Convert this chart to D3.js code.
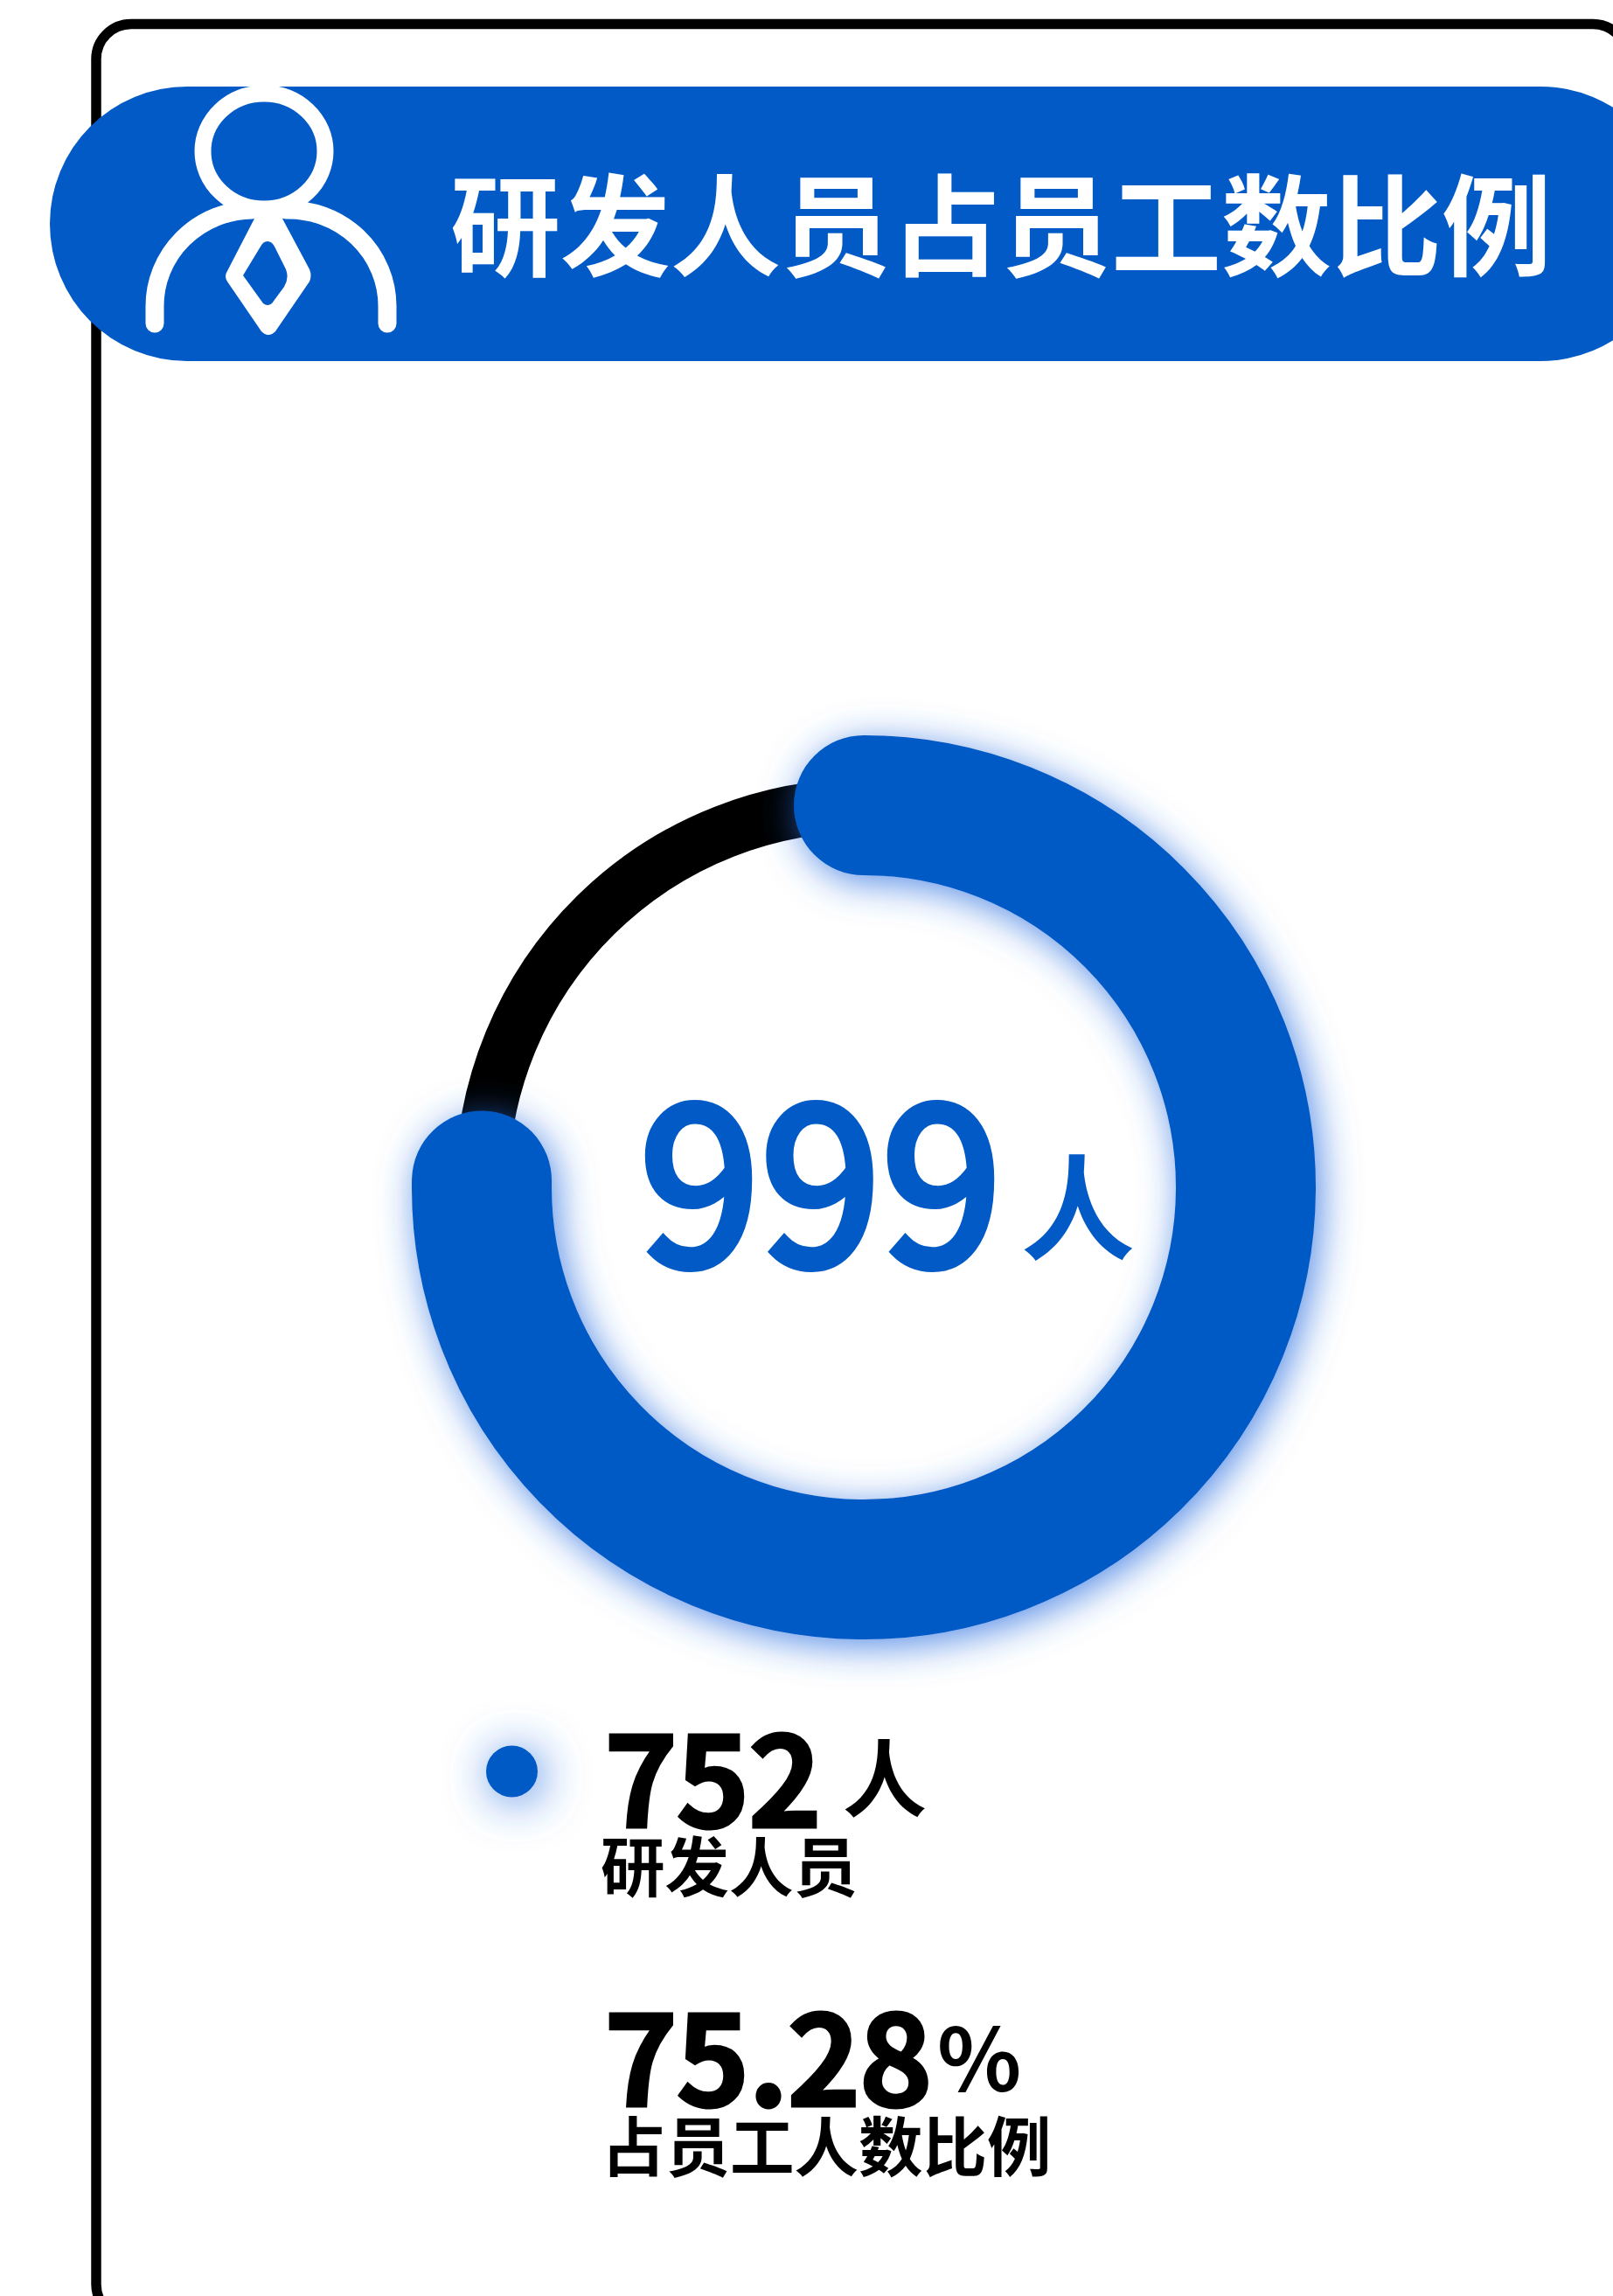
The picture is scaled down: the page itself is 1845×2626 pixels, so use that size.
<!DOCTYPE html>
<html lang="zh">
<head>
  <meta charset="UTF-8">
  <title>研发人员占员工数比例</title>
  <script src="https://d3js.org/d3.v7.min.js"></script>
  <style>
    html, body { margin: 0; padding: 0; background: #fff; overflow: hidden; }
    svg { display: block; }
    text { font-family: "Noto Sans CJK SC", "Noto Sans", sans-serif; }
  </style>
</head>
<body>
  <div id="chart"></div>
  <script>
    // values
    const categories = ["研发人员", "其他人员"];
    const people = [752, 247];
    const total = [999];
    const shareLabel = ["75.28"];
    const titleText = ["研发人员占员工数比例"];
    const shareCaption = ["占员工人数比例"];

    const blue = "#025ac6";
    const width = 1845, height = 2626;
    const cx = 988, cy = 1358, ringR = 437;

    const svg = d3.select("#chart").append("svg")
      .attr("width", width)
      .attr("height", height);

    const defs = svg.append("defs");
    const glow = (id, dx, dy, sd, op) => defs.append("filter")
      .attr("id", id)
      .attr("filterUnits", "userSpaceOnUse")
      .attr("x", 0).attr("y", 0).attr("width", width).attr("height", height)
      .append("feDropShadow")
      .attr("dx", dx).attr("dy", dy)
      .attr("stdDeviation", sd)
      .attr("flood-color", "#2a6fe0")
      .attr("flood-opacity", op);
    glow("ringGlow", 6, 8, 22, 0.8);
    glow("dotGlow", 5, 5, 26, 0.85);

    // card outline, runs off the right and bottom of the page
    svg.append("rect")
      .attr("x", 110).attr("y", 27.5)
      .attr("width", 1752).attr("height", 2625)
      .attr("rx", 40).attr("ry", 40)
      .attr("fill", "#fff")
      .attr("stroke", "#000")
      .attr("stroke-width", 11.5);

    // title banner
    svg.append("rect")
      .attr("x", 57).attr("y", 99)
      .attr("width", 1862).attr("height", 314)
      .attr("rx", 157).attr("ry", 157)
      .attr("fill", blue);

    // person icon
    const icon = svg.append("g").attr("fill", "none").attr("stroke", "#fff");
    icon.append("ellipse")
      .attr("cx", 302).attr("cy", 173)
      .attr("rx", 70).attr("ry", 66)
      .attr("stroke-width", 19);
    icon.append("path")
      .attr("d", "M177,370 V350 A113,110 0 0 1 288,240 M443,370 V350 A113,110 0 0 0 327,240")
      .attr("stroke-width", 21)
      .attr("stroke-linecap", "round");
    icon.append("path")
      .attr("d", "M284,236 L322,236 L323,250 L354,308 Q357,315 354,322 L315,379 Q307,387 299,379 L260,322 Q256,316 260,310 L291,250 Z"
        + " M306,276 Q301,276 298,282 L278,315 L301,347 Q306,351 311,347 L325,328 Q331,318 327,308 L314,282 Q311,276 306,276 Z")
      .attr("fill", "#fff")
      .attr("fill-rule", "evenodd")
      .attr("stroke", "none");

    svg.append("text")
      .attr("x", 515).attr("y", 306)
      .attr("font-size", 126).attr("font-weight", 700)
      .attr("fill", "#fff")
      .text(titleText[0]);

    // donut: thin black remainder under a thick round-capped blue arc
    const slices = d3.pie().sort(null)(people);
    const arcPath = d => {
      const p = d3.path();
      p.arc(cx, cy, ringR, d.startAngle - Math.PI / 2, d.endAngle - Math.PI / 2);
      return p.toString();
    };

    svg.append("path")
      .attr("d", arcPath(slices[1]))
      .attr("fill", "none")
      .attr("stroke", "#000")
      .attr("stroke-width", 61);

    svg.append("path")
      .attr("d", arcPath(slices[0]))
      .attr("fill", "none")
      .attr("stroke", blue)
      .attr("stroke-width", 160)
      .attr("stroke-linecap", "round")
      .attr("filter", "url(#ringGlow)");

    // centre label, regular face thickened with a stroke
    svg.append("text")
      .attr("x", 732).attr("y", 1447)
      .attr("font-size", 246).attr("font-weight", 400)
      .attr("letter-spacing", 2)
      .attr("fill", blue)
      .attr("stroke", blue)
      .attr("stroke-width", 10)
      .text(total[0]);
    svg.append("text")
      .attr("x", 1168).attr("y", 1430)
      .attr("font-size", 130).attr("font-weight", 700)
      .attr("fill", blue)
      .text("人");

    // legend
    svg.append("circle")
      .attr("cx", 585.5).attr("cy", 2026).attr("r", 29.5)
      .attr("fill", blue)
      .attr("filter", "url(#dotGlow)");

    const big = (x, y, size, weight, str, spacing, thick) => svg.append("text")
      .attr("x", x).attr("y", y)
      .attr("font-size", size).attr("font-weight", weight)
      .attr("letter-spacing", spacing || 0)
      .attr("fill", "#000")
      .attr("stroke", "#000")
      .attr("stroke-width", thick || 0)
      .text(str);

    big(691, 2090, 143, 700, people[0], -2, 3);
    big(964, 2070, 96, 700, "人");
    big(687, 2163, 73.5, 700, categories[0]);
    big(691, 2409, 143, 700, shareLabel[0], -2, 3);
    big(1072, 2392, 100, 700, "%");
    big(688, 2483, 73.5, 700, shareCaption[0]);
  </script>
</body>
</html>
